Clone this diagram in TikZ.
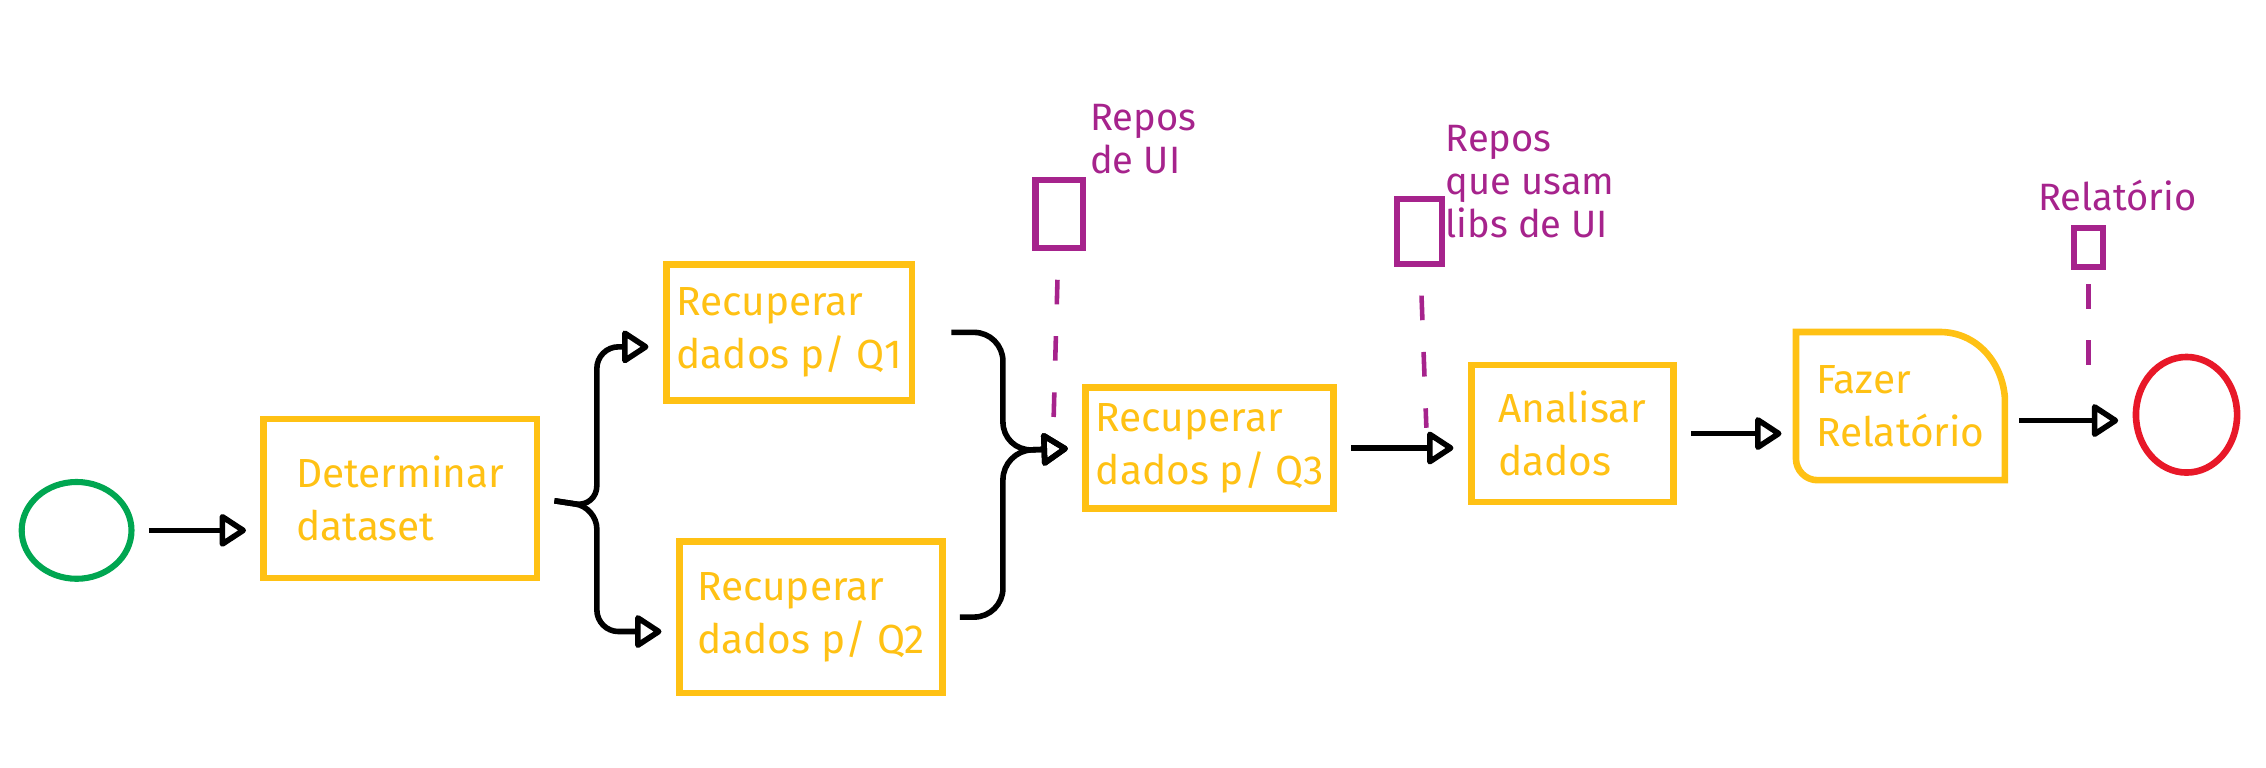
\documentclass[tikz,border=0pt]{standalone}
\usepackage{fontspec}
\setmainfont{Fira Sans}
\usetikzlibrary{positioning, arrows.meta, calc, shapes.geometric}
\definecolor{taskyel}{RGB}{255,193,20}
\definecolor{datapur}{RGB}{166,35,140}
\definecolor{startgrn}{RGB}{0,166,81}
\definecolor{endred}{RGB}{232,24,40}
\tikzset{
  % --- nodes ---
  task/.style    = {draw=taskyel, line width=2.6pt, text=taskyel, align=left,
                    font=\fontsize{16}{21}\selectfont, inner sep=4pt},
  taskline/.style= {draw=taskyel, line width=2.6pt},
  docobj/.style  = {draw=datapur, line width=2.4pt, inner sep=0pt},
  startev/.style = {ellipse, draw=startgrn, line width=2.4pt, inner sep=0pt,
                    minimum width=1.52cm, minimum height=1.34cm},
  endev/.style   = {ellipse, draw=endred, line width=2.6pt, inner sep=0pt,
                    minimum width=1.4cm, minimum height=1.6cm},
  note/.style    = {text=datapur, align=left, inner sep=0pt,
                    font=\fontsize{15}{17}\selectfont},
  % --- edges ---
  flow/.style    = {-{Triangle[open, round, length=4mm, width=5mm]}, line width=2.2pt,
                    black, shorten <=2mm, shorten >=2mm},
  assoc/.style   = {datapur, line width=1.8pt, dash pattern=on 3.4mm off 4.4mm},
}
\begin{document}
\begin{tikzpicture}[x=0.02cm, y=-0.02cm]
  \useasboundingbox (0,0) rectangle (1568,531);

  % ===================================================================
  %  EVENTS
  % ===================================================================
  \node[startev] (start) at (53,367) {};
  \node[endev]   (stop)  at (1513,287) {};

  % ===================================================================
  %  TASKS
  % ===================================================================
  \node[task, minimum width=3.78cm, minimum height=2.2cm]  (det) at (277,345)  {Determinar\\dataset};
  \node[task, minimum width=3.04cm, minimum height=1.88cm] (q1)  at (546,230)  {Recuperar\\dados p/ Q1};
  \node[task, minimum width=3.64cm, minimum height=2.1cm]  (q2)  at (561,427)  {Recuperar\\dados p/ Q2};
  \node[task, minimum width=3.4cm,  minimum height=1.68cm] (q3)  at (837,310)  {Recuperar\\dados p/ Q3};
  \node[task, minimum width=2.8cm,  minimum height=1.9cm]  (ana) at (1088,300) {Analisar\\dados};
  \node[task, draw=none, minimum width=2.8cm, minimum height=1.96cm] (rel) at (1315,281) {Fazer\\Relatório};
  % --- report task: rounded top right ---
  \draw[taskline] (rel.north west) -- ([xshift=-9mm]rel.north east)
    to[out=0, in=95] ([yshift=-9mm]rel.north east) -- (rel.south east)
    -- ([xshift=3mm]rel.south west) to[out=180, in=-90] ([yshift=3mm]rel.south west)
    -- cycle;

  % ===================================================================
  %  DATA OBJECTS
  % ===================================================================
  \node[docobj, minimum width=0.66cm, minimum height=0.94cm] (d1) at (733,148)  {};
  \node[docobj, minimum width=0.62cm, minimum height=0.9cm]  (d2) at (982,160)  {};
  \node[docobj, minimum width=0.4cm,  minimum height=0.54cm] (d3) at (1445,171) {};
  \node[note, anchor=north west] (l1) at (754,72)   {Repos\\de UI};
  \node[note, anchor=north west] (l2) at (1000,86)  {Repos\\que usam\\libs de UI};
  \node[note, anchor=north west] (l3) at (1410,124) {Relatório};

  % ===================================================================
  %  SEQUENCE FLOW
  % ===================================================================
  \coordinate (frk) at (413,351);
  \coordinate (mrg) at (694,312);
  \coordinate (rout) at ([yshift=-2mm]rel.east);
  \draw[flow] (start.east) -- (start.east -| det.west);
  \draw[flow, rounded corners=3mm] (det.east) -- (frk) |- ([yshift=-2mm]q1.west);
  \draw[flow, rounded corners=3mm] (det.east) -- (frk) |- ([yshift=-2mm]q2.west);
  \draw[flow, rounded corners=4mm, shorten <=5mm] (q1.east) -| (mrg) -- (q3.west);
  \draw[flow, rounded corners=4mm] (q2.east) -| (mrg) -- (q3.west);
  \draw[flow] (q3.east) -- (q3.east -| ana.west);
  \draw[flow] (ana.east) -- (ana.east -| rel.west);
  \draw[flow] (rout) -- (rout -| stop.west);

  % ===================================================================
  %  DATA ASSOCIATIONS
  % ===================================================================
  \coordinate (t1) at (729,292);
  \coordinate (t2) at (987,296);
  \coordinate (t3) at (1445,272);
  \draw[assoc, shorten <=4mm] (d1) -- (t1);
  \draw[assoc, shorten <=4mm] (d2) -- (t2);
  \draw[assoc, shorten <=2mm] (d3) -- (t3);

\end{tikzpicture}
\end{document}
